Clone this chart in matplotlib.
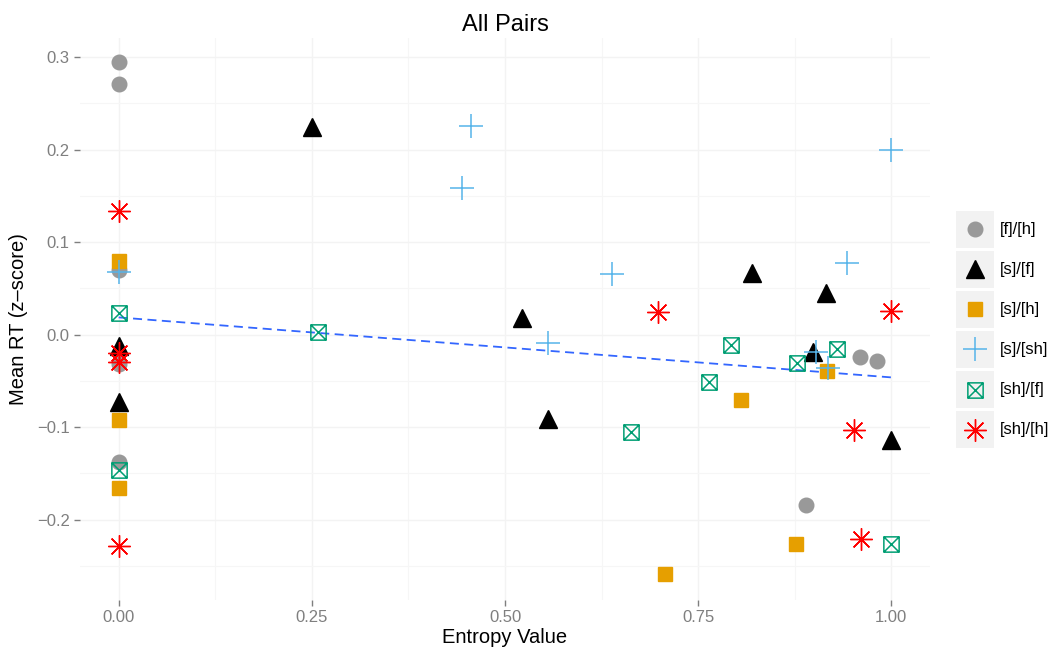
import numpy as np
import matplotlib
matplotlib.use('Agg')
import matplotlib.pyplot as plt
from matplotlib.path import Path
from matplotlib.patches import Rectangle

plt.rcParams['font.family'] = ['Liberation Sans', 'DejaVu Sans']

# entropy value / mean RT (z-score) for each pair group
fh_x = [0.0, 0.0, 0.0, 0.0, 0.0, 0.889, 0.960, 0.981]
fh_y = [0.295, 0.271, 0.070, -0.032, -0.138, -0.184, -0.024, -0.029]

sf_x = [0.25, 0.0, 0.0, 0.522, 0.556, 0.819, 0.915, 0.898, 1.0]
sf_y = [0.225, -0.012, -0.073, 0.018, -0.091, 0.067, 0.045, -0.019, -0.114]

shh_x = [0.0, 0.0, 0.0, 0.707, 0.806, 0.876, 0.917]
shh_y = [0.080, -0.092, -0.166, -0.259, -0.071, -0.226, -0.039]

ssh_x = [0.456, 0.444, 0.639, 0.556, 0.942, 0.999, 0.0, 0.903, 0.918]
ssh_y = [0.226, 0.159, 0.066, -0.009, 0.077, 0.200, 0.068, -0.019, -0.036]

shf_x = [0.0, 0.258, 0.0, 0.663, 0.764, 0.792, 0.878, 0.930, 1.0]
shf_y = [0.023, 0.003, -0.146, -0.105, -0.051, -0.011, -0.031, -0.015, -0.226]

shhh_x = [0.0, 0.0, 0.0, 0.0, 0.698, 1.0, 0.951, 0.961]
shhh_y = [0.134, -0.020, -0.030, -0.229, 0.025, 0.026, -0.103, -0.221]

labels = ['[f]/[h]', '[s]/[f]', '[s]/[h]', '[s]/[sh]', '[sh]/[f]', '[sh]/[h]']

# square with an X inside (ggplot shape 7)
boxx = Path([(-1, -1), (1, -1), (1, 1), (-1, 1), (-1, -1),
             (-1, -1), (1, 1), (-1, 1), (1, -1)],
            [Path.MOVETO, Path.LINETO, Path.LINETO, Path.LINETO, Path.CLOSEPOLY,
             Path.MOVETO, Path.LINETO, Path.MOVETO, Path.LINETO])

styles = [
    dict(marker='o', ms=10.5, color='#999999', mec='#999999'),
    dict(marker='^', ms=13, color='black', mec='black'),
    dict(marker='s', ms=10.5, color='#E69F00', mec='#E69F00'),
    dict(marker='+', ms=17, color='#56B4E9', mew=1.1),
    dict(marker=boxx, ms=11, color='#009E73', mfc='none', mew=1.1),
    dict(marker=(8, 2, 0), ms=16, color='#FF0000', mew=1.0),
]
series = [(fh_x, fh_y), (sf_x, sf_y), (shh_x, shh_y), (ssh_x, ssh_y),
          (shf_x, shf_y), (shhh_x, shhh_y)]

W, H = 1054, 651
fig = plt.figure(figsize=(W / 100, H / 100), dpi=100)
ax = fig.add_axes([80 / W, (H - 600) / H, 850 / W, 562 / H])

for (xs, ys), st in zip(series, styles):
    ax.plot(xs, ys, linestyle='', **st)

# linear fit over all points
allx = np.concatenate([s[0] for s in series])
ally = np.concatenate([s[1] for s in series])
k, b = np.polyfit(allx, ally, 1)
xx = np.array([allx.min(), allx.max()])
ax.plot(xx, k * xx + b, color='#3366FF', lw=1.3, ls=(0, (5, 3)), zorder=1)

ax.set_xlim(-0.05, 1.05)
ax.set_ylim(-0.2869, 0.3208)
ax.set_xticks([0, 0.25, 0.5, 0.75, 1.0])
ax.set_xticklabels(['0.00', '0.25', '0.50', '0.75', '1.00'])
ax.set_yticks([-0.2, -0.1, 0.0, 0.1, 0.2, 0.3])
ax.set_yticklabels(['\u22120.2', '\u22120.1', '0.0', '0.1', '0.2', '0.3'])
ax.set_xticks([0.125, 0.375, 0.625, 0.875], minor=True)
ax.set_yticks([-0.25, -0.15, -0.05, 0.05, 0.15, 0.25], minor=True)
ax.grid(which='major', color='#F3F3F3', lw=1.0)
ax.grid(which='minor', color='#F6F6F6', lw=0.8)
ax.set_axisbelow(True)
for sp in ax.spines.values():
    sp.set_visible(False)
ax.tick_params(which='major', colors='#7F7F7F', labelsize=12, length=4, width=1)
ax.tick_params(which='minor', length=0)
ax.set_xlabel('Entropy Value', fontsize=14.5, labelpad=2)
ax.set_ylabel('Mean RT (z\u2013score)', fontsize=14.5, labelpad=6)
ax.set_title('All Pairs', fontsize=17, pad=5)

# legend with grey key boxes
lg = fig.add_axes([956 / W, (H - 450) / H, 98 / W, 240 / H])
lg.set_xlim(956, 1054)
lg.set_ylim(450, 210)
lg.axis('off')
for i, (lab, st) in enumerate(zip(labels, styles)):
    top = 211 + 40 * i
    lg.add_patch(Rectangle((956, top), 38, 37, facecolor='#F2F2F2', edgecolor='none'))
    lg.plot([975], [top + 18.5], linestyle='', **st)
    lg.text(1000, top + 18.5, lab, fontsize=12, va='center', ha='left')

fig.savefig('out.png', dpi=100)
